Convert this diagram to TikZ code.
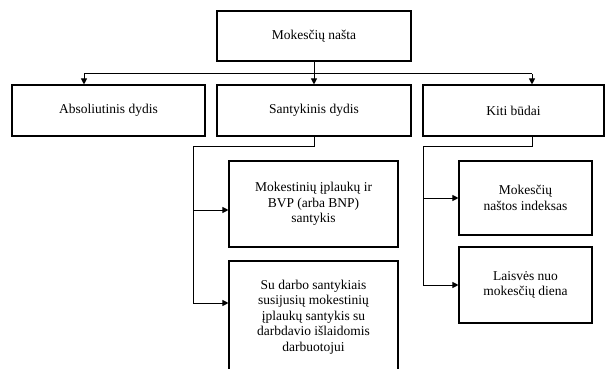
\documentclass[tikz,border=0pt]{standalone}
\usepackage{fontspec}
\setmainfont{Liberation Serif}
\usetikzlibrary{arrows.meta}
\tikzset{box/.style={draw, line width=1.1pt, align=center, inner sep=0pt}}

\begin{document}
\begin{tikzpicture}[x=1pt, y=-1pt, line width=1pt, >={Triangle[length=6pt,width=6pt]}, font=\fontsize{13.5}{15.5}\selectfont]
\useasboundingbox (0,0) rectangle (606,369);
\node[box, minimum width=194, minimum height=50] (nasta) at (314,36) {Mokesčių našta};
\node[box, minimum width=193, minimum height=51] (abs) at (108.5,110.5) {Absoliutinis dydis};
\node[box, minimum width=194, minimum height=51] (sant) at (314,110.5) {Santykinis dydis};
\node[box, minimum width=181, minimum height=51] (kiti) at (513.5,110.5) {Kiti būdai};
\node[box, minimum width=169, minimum height=86] (sub1) at (313.5,204) {Mokestinių įplaukų ir\\BVP (arba BNP)\\santykis};
\node[box, minimum width=169, minimum height=112] (sub2) at (313.5,317) {Su darbo santykiais\\susijusių mokestinių\\įplaukų santykis su\\darbdavio išlaidomis\\darbuotojui};
\node[box, minimum width=133, minimum height=74] (sub3) at (525.5,198) {Mokesčių\\naštos indeksas};
\node[box, minimum width=133, minimum height=76] (sub4) at (525.5,285) {Laisvės nuo\\mokesčių diena};
% first level
\coordinate (hl) at (84,74);
\coordinate (hr) at (532,74);
\draw (hl) -- (hr);
\draw[->] (nasta.south) -- (sant.north);
\draw[->] (hl) -- (hl |- abs.north);
\draw[->] (hr) -- (hr |- kiti.north);
% santykinis dydis
\coordinate (sb) at (193,147);
\coordinate (sa1) at (193,210);
\coordinate (sa2) at (193,303);
\draw (sant.south) |- (sb) -- (sa2);
\draw[->] (sa1) -- (sa1 -| sub1.west);
\draw[->] (sa2) -- (sa2 -| sub2.west);
% kiti budai
\coordinate (kb) at (423,147);
\draw (hr |- kiti.south) |- (kb) -- (kb |- sub4.west);
\draw[->] (kb |- sub3.west) -- (sub3.west);
\draw[->] (kb |- sub4.west) -- (sub4.west);
\end{tikzpicture}
\end{document}
